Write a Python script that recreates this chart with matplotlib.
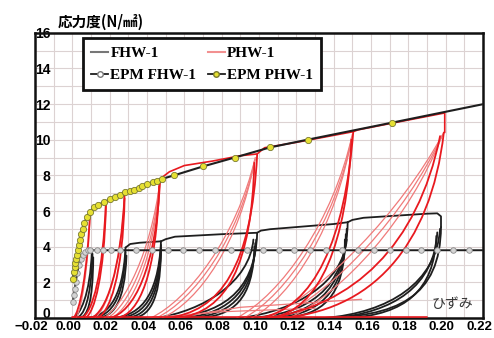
import matplotlib
matplotlib.use("Agg")
import matplotlib.pyplot as plt
from matplotlib.path import Path
from matplotlib.patches import PathPatch
from matplotlib.lines import Line2D
from matplotlib.ticker import MultipleLocator
from matplotlib.transforms import ScaledTranslation

# --- EPM envelopes ---
epm_phw_x = [0.0003, 0.0008, 0.0012, 0.0016, 0.0020, 0.0025, 0.0030, 0.0036, 0.0042,
             0.0048, 0.0055, 0.0065, 0.0078, 0.0095, 0.0116, 0.014, 0.017, 0.020,
             0.023, 0.0255, 0.0284, 0.031, 0.033, 0.0355, 0.0375, 0.040, 0.043,
             0.0455, 0.048, 0.0545, 0.070, 0.087, 0.106, 0.126, 0.171, 0.2195]
epm_phw_y = [2.2, 2.6, 2.85, 3.08, 3.3, 3.55, 3.8, 4.1, 4.4,
             4.7, 5.0, 5.35, 5.65, 5.95, 6.2, 6.35, 6.5, 6.65,
             6.8, 6.92, 7.05, 7.15, 7.2, 7.3, 7.4, 7.5, 7.6,
             7.7, 7.8, 8.0, 8.5, 9.0, 9.57, 10.0, 10.95, 11.98]

epm_fhw_x = [0.0003, 0.0008, 0.0013, 0.0018, 0.0026, 0.0035, 0.0045, 0.0056, 0.0068,
             0.0082, 0.0096, 0.013, 0.0165, 0.0205, 0.0255, 0.034, 0.0425, 0.051,
             0.0595, 0.068, 0.0765, 0.085, 0.0935, 0.102, 0.1105, 0.119, 0.1275,
             0.136, 0.1445, 0.153, 0.1615, 0.170, 0.1785, 0.187, 0.1955, 0.204,
             0.2125, 0.2195]
epm_fhw_y = [0.9, 1.3, 1.65, 2.0, 2.5, 2.95, 3.3, 3.55, 3.72,
             3.8, 3.8, 3.8, 3.8, 3.8, 3.8, 3.8, 3.8, 3.8,
             3.8, 3.8, 3.8, 3.8, 3.8, 3.8, 3.8, 3.8, 3.8,
             3.8, 3.8, 3.8, 3.8, 3.8, 3.8, 3.8, 3.8, 3.8,
             3.8, 3.8]

# --- FHW-1 hysteresis: cubic Bezier branches (start, ctrl, ctrl, end) ---
fhw_branches = [
    [(0.0005, 0), (0.004, 0.2), (0.0095, 1.2), (0.0105, 3.8)],
    [(0.002, 0), (0.006, 0.1), (0.010, 0.9), (0.0108, 3.6)],
    [(0.004, 0), (0.008, 0.1), (0.011, 0.8), (0.0112, 3.4)],
    [(0.006, 0), (0.018, 0.0), (0.027, 0.9), (0.0285, 3.95)],
    [(0.009, 0), (0.020, 0.0), (0.0275, 0.9), (0.0285, 3.7)],
    [(0.012, 0), (0.022, 0.0), (0.028, 0.8), (0.029, 3.5)],
    [(0.019, 0), (0.035, 0.0), (0.046, 1.0), (0.0475, 4.3)],
    [(0.023, 0), (0.037, 0.0), (0.0465, 1.0), (0.0475, 4.1)],
    [(0.027, 0), (0.039, 0.0), (0.0465, 0.9), (0.0475, 3.9)],
    [(0.031, 0), (0.041, 0.0), (0.047, 0.9), (0.0475, 3.7)],
    [(0.052, 0), (0.078, 0.2), (0.098, 1.3), (0.099, 4.75)],
    [(0.057, 0), (0.080, 0.1), (0.097, 1.2), (0.0985, 4.4)],
    [(0.062, 0), (0.083, 0.1), (0.097, 1.1), (0.098, 4.2)],
    [(0.067, 0), (0.086, 0.1), (0.097, 1.0), (0.0975, 4.0)],
    [(0.045, 0), (0.070, 0.4), (0.095, 2.0), (0.097, 4.4)],
    [(0.095, 0), (0.125, 0.2), (0.147, 1.5), (0.1475, 5.37)],
    [(0.100, 0), (0.128, 0.1), (0.146, 1.4), (0.147, 5.0)],
    [(0.106, 0), (0.131, 0.1), (0.146, 1.3), (0.1465, 4.7)],
    [(0.112, 0), (0.134, 0.1), (0.146, 1.2), (0.146, 4.4)],
    [(0.090, 0), (0.120, 0.4), (0.145, 2.0), (0.147, 4.4)],
    [(0.130, 0), (0.175, 0.0), (0.197, 1.2), (0.1975, 5.1)],
    [(0.135, 0), (0.170, 0.3), (0.195, 2.0), (0.197, 5.0)],
    [(0.140, 0), (0.172, 0.3), (0.194, 1.8), (0.1955, 4.8)],
    [(0.148, 0), (0.178, 0.2), (0.194, 1.5), (0.195, 4.6)],
]
fhw_tops = [
    [(0.0285, 3.95), (0.031, 4.15), (0.036, 4.22), (0.0475, 4.3)],
    [(0.0475, 4.3), (0.050, 4.42), (0.055, 4.56), (0.080, 4.70), (0.099, 4.78)],
    [(0.099, 4.78), (0.101, 4.9), (0.106, 4.98), (0.140, 5.27), (0.1475, 5.37)],
    [(0.1475, 5.37), (0.150, 5.5), (0.156, 5.62), (0.190, 5.85), (0.1955, 5.87),
     (0.1975, 5.7), (0.1975, 5.1)],
]

# --- PHW-1 hysteresis ---
phw_bold = [
    [(0.0005, 0), (0.004, 0.3), (0.008, 2.5), (0.0095, 6.0)],
    [(0.005, 0), (0.011, 0.3), (0.0165, 2.5), (0.018, 6.55)],
    [(0.007, 0), (0.012, 0.3), (0.017, 2.4), (0.018, 6.3)],
    [(0.010, 0), (0.018, 0.3), (0.026, 2.6), (0.028, 7.0)],
    [(0.013, 0), (0.020, 0.2), (0.027, 2.4), (0.028, 6.7)],
    [(0.020, 0), (0.033, 0.3), (0.045, 2.8), (0.047, 7.8)],
    [(0.024, 0), (0.036, 0.2), (0.045, 2.5), (0.0465, 7.4)],
    [(0.050, 0), (0.080, 0.3), (0.096, 3.0), (0.099, 9.15)],
    [(0.056, 0), (0.083, 0.3), (0.096, 3.0), (0.0975, 8.7)],
    [(0.100, 0), (0.130, 0.5), (0.146, 4.5), (0.1505, 10.45)],
    [(0.106, 0), (0.133, 0.4), (0.147, 4.3), (0.1495, 10.0)],
    [(0.110, 0), (0.160, 0.3), (0.192, 4.0), (0.199, 10.4)],
    [(0.105, 0), (0.150, 0.7), (0.185, 4.0), (0.197, 10.2)],
]
phw_light = [
    [(0.002, 0), (0.005, 0.5), (0.0085, 2.8), (0.0095, 5.8)],
    [(0.012, 0), (0.019, 0.5), (0.026, 3.0), (0.028, 6.8)],
    [(0.017, 0), (0.028, 0.8), (0.042, 3.6), (0.047, 7.7)],
    [(0.019, 0), (0.030, 0.7), (0.043, 3.5), (0.047, 7.6)],
    [(0.021, 0), (0.032, 0.6), (0.044, 3.4), (0.0465, 7.5)],
    [(0.042, 0), (0.062, 1.0), (0.088, 4.5), (0.098, 9.0)],
    [(0.045, 0), (0.065, 1.0), (0.089, 4.4), (0.098, 8.9)],
    [(0.048, 0), (0.068, 0.9), (0.090, 4.3), (0.0975, 8.8)],
    [(0.088, 0), (0.112, 1.3), (0.140, 5.5), (0.150, 10.3)],
    [(0.092, 0), (0.115, 1.3), (0.141, 5.4), (0.150, 10.2)],
    [(0.096, 0), (0.118, 1.2), (0.142, 5.3), (0.1495, 10.1)],
    [(0.105, 0), (0.135, 1.6), (0.175, 5.8), (0.199, 10.4)],
    [(0.110, 0), (0.140, 1.5), (0.178, 5.7), (0.1985, 10.3)],
    [(0.116, 0), (0.145, 1.4), (0.181, 5.6), (0.198, 10.2)],
]
phw_tops = [
    [(0.047, 7.8), (0.052, 8.2), (0.060, 8.55), (0.075, 8.8), (0.090, 9.1), (0.099, 9.2)],
    [(0.099, 9.2), (0.103, 9.55), (0.120, 9.85), (0.1505, 10.45)],
    [(0.1505, 10.45), (0.153, 10.55), (0.170, 10.9), (0.1995, 11.5), (0.1995, 10.4)],
]
phw_light_lines = [
    [(0.0095, 6.0), (0.014, 6.25), (0.020, 6.55), (0.028, 6.95), (0.038, 7.35), (0.047, 7.75)],
    [(0.060, 0.1), (0.090, 0.6), (0.155, 1.05)],
    [(0.040, 0.0), (0.080, 0.35), (0.130, 0.55)],
]
phw_base = [(0.0, 0.05), (0.19, 0.05)]

x_ticks = [-0.02, 0.00, 0.02, 0.04, 0.06, 0.08, 0.10, 0.12, 0.14, 0.16, 0.18, 0.20, 0.22]
x_tick_labels = ["\u22120.02", "0.00", "0.02", "0.04", "0.06", "0.08", "0.10",
                 "0.12", "0.14", "0.16", "0.18", "0.20", "0.22"]
y_ticks = [0, 2, 4, 6, 8, 10, 12, 14, 16]

BLACK = "#1e1e1e"
RED = "#e8191f"
LRED = "#f07a7a"
JP = ["Noto Sans CJK JP", "DejaVu Sans"]


def bezier(ax, pts, **kw):
    path = Path(pts, [Path.MOVETO, Path.CURVE4, Path.CURVE4, Path.CURVE4])
    ax.add_patch(PathPatch(path, fill=False, capstyle="round", **kw))


def poly(ax, pts, **kw):
    ax.plot([p[0] for p in pts], [p[1] for p in pts], solid_capstyle="round", **kw)


fig = plt.figure(figsize=(4.94, 3.38), dpi=100)
ax = fig.add_axes([35 / 494, 20 / 338, 448 / 494, 285.3 / 338])
ax.set_xlim(-0.02, 0.22)
ax.set_ylim(0, 16)

ax.xaxis.set_minor_locator(MultipleLocator(0.01))
ax.yaxis.set_minor_locator(MultipleLocator(1))
ax.set_xticks(x_ticks)
ax.set_xticklabels(x_tick_labels)
ax.set_yticks(y_ticks)
ax.set_yticklabels([str(v) for v in y_ticks])
ax.grid(True, which="both", color="#dcd2d2", lw=0.8, zorder=0)
ax.set_axisbelow(True)
ax.tick_params(which="both", length=0)
ax.tick_params(axis="x", pad=2.5, labelsize=9.5)
ax.tick_params(axis="y", pad=-11, labelsize=10)
for lab in ax.get_xticklabels() + ax.get_yticklabels():
    lab.set_fontweight("bold")
    lab.set_family("Liberation Sans")
for lab in ax.get_xticklabels():
    lab.set_transform(lab.get_transform() + ScaledTranslation(-4 / 100, 0, fig.dpi_scale_trans))
for lab in ax.get_yticklabels():
    lab.set_zorder(6)
ax.get_yticklabels()[0].set_transform(
    ax.get_yticklabels()[0].get_transform() + ScaledTranslation(0, 5 / 100, fig.dpi_scale_trans))
for s in ax.spines.values():
    s.set_linewidth(1.8)
    s.set_color("#111111")

# FHW-1
for b in fhw_branches:
    bezier(ax, b, edgecolor=BLACK, lw=1.3, zorder=2)
for t in fhw_tops:
    poly(ax, t, color=BLACK, lw=1.3, zorder=2)

# PHW-1
for b in phw_light:
    bezier(ax, b, edgecolor=LRED, lw=0.9, zorder=3)
for t in phw_light_lines:
    poly(ax, t, color=LRED, lw=0.9, zorder=3)
for b in phw_bold:
    bezier(ax, b, edgecolor=RED, lw=1.3, zorder=3.5)
for t in phw_tops:
    poly(ax, t, color=RED, lw=1.2, zorder=3.5)
poly(ax, phw_base, color=RED, lw=1.2, zorder=3.5)

# EPM
ax.plot(epm_fhw_x, epm_fhw_y, color=BLACK, lw=1.4, marker="o", ms=4,
        mfc="#d4d4d4", mec="#8a8a8a", mew=0.6, markevery=list(range(len(epm_fhw_x) - 1)),
        zorder=5)
ax.plot(epm_phw_x, epm_phw_y, color=BLACK, lw=1.5, marker="o", ms=4.5,
        mfc="#e6e032", mec="#7a7a30", mew=0.6, markevery=list(range(len(epm_phw_x) - 1)),
        zorder=5)

handles = [
    Line2D([], [], color="#777777", lw=1.5),
    Line2D([], [], color=BLACK, lw=1.3, marker="o", ms=4, mfc="white", mec="#777777"),
    Line2D([], [], color="#f29090", lw=1.5),
    Line2D([], [], color=BLACK, lw=1.3, marker="o", ms=4, mfc="#e6e032", mec="#7a7a30"),
]
leg = ax.legend(handles, ["FHW-1", "EPM FHW-1", "PHW-1", "EPM PHW-1"], ncol=2,
                loc="upper left", bbox_to_anchor=(0.107, 0.982), borderaxespad=0,
                frameon=True, fancybox=False, framealpha=1, edgecolor="#111111",
                handlelength=1.1, handletextpad=0.15, columnspacing=0.75,
                labelspacing=0.55, borderpad=0.55,
                prop={"family": "Liberation Serif", "weight": "bold", "size": 11})
leg.get_frame().set_linewidth(2.0)
leg.set_zorder(7)

fig.text(58 / 494, 1 - 22 / 338, "応力度(N/㎟)", family=JP, fontweight="bold",
         fontsize=10.5, va="center", ha="left")
ax.text(0.2036, 0.78, "ひずみ", family=JP, fontsize=10, color="#333333",
        ha="center", va="center", zorder=6)

fig.savefig("out.png", dpi=100)
